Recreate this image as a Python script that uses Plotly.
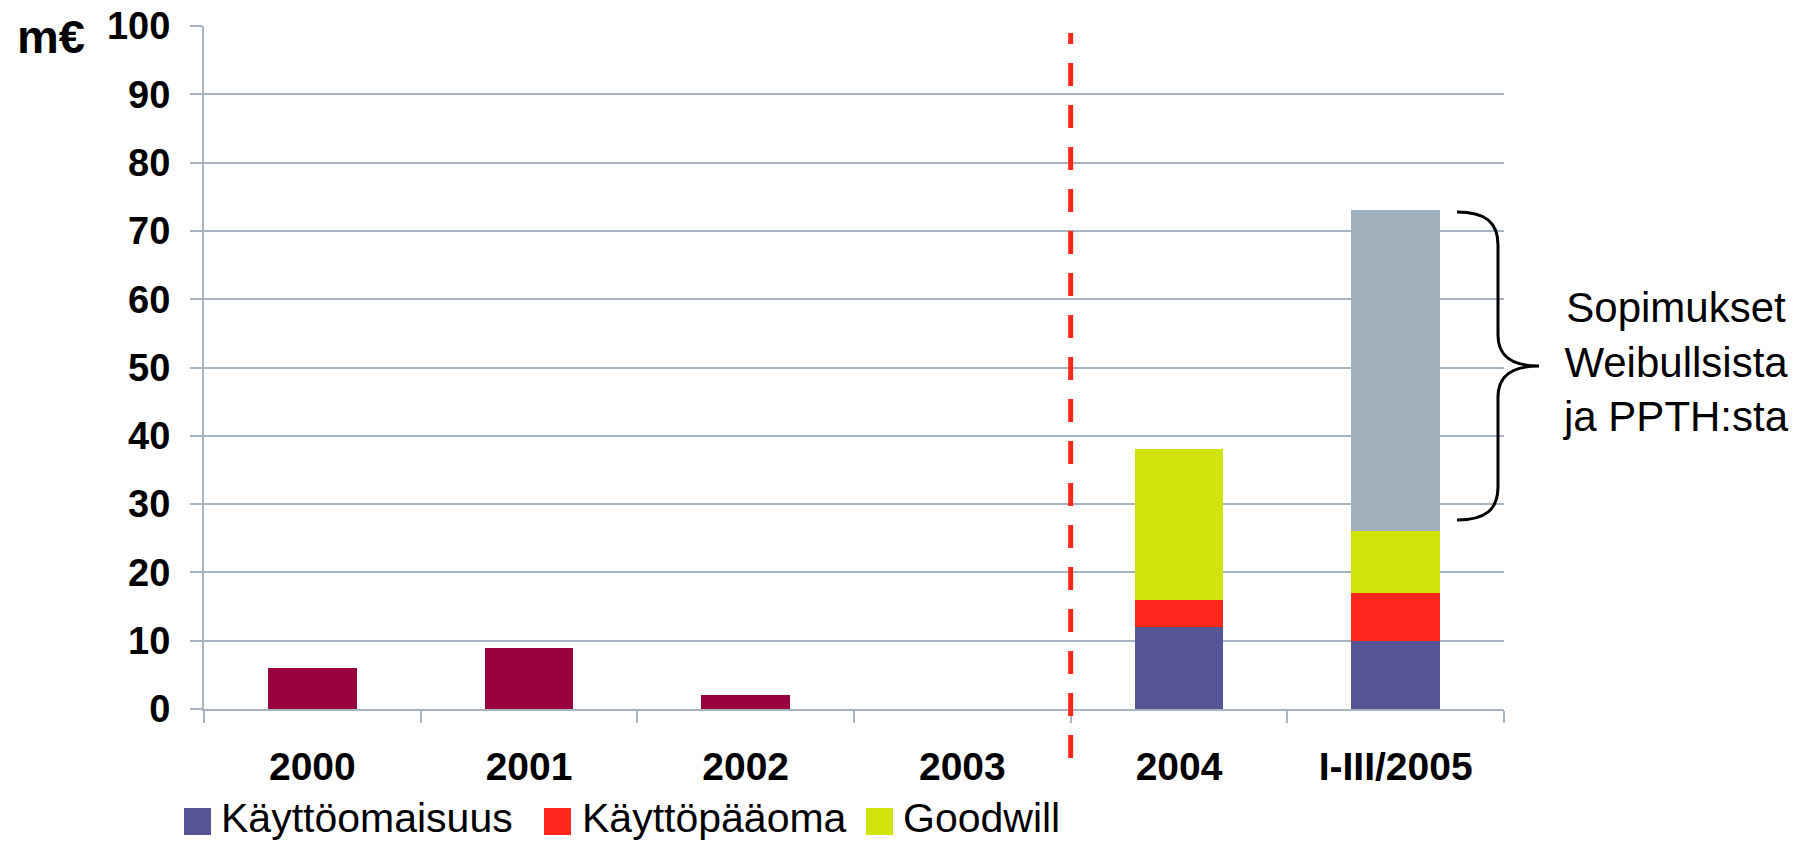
import plotly.graph_objects as go

# ---------------- data ----------------
categories = ["2000", "2001", "2002", "2003", "2004", "I-III/2005"]
acquisitions = [6, 9, 2, None, None, None]          # maroon bars (no legend entry)
kayttoomaisuus = [None, None, None, None, 12, 10]
kayttopaaoma = [None, None, None, None, 4, 7]
goodwill = [None, None, None, None, 22, 9]
sopimukset = [None, None, None, None, None, 47]     # grey, annotated with brace

y_ticks = [0, 10, 20, 30, 40, 50, 60, 70, 80, 90, 100]
legend_names = ["Käyttöomaisuus", "Käyttöpääoma", "Goodwill"]

# ---------------- style ----------------
FONT = "Liberation Sans, Arial, sans-serif"
C_MAROON = "#990040"
C_BLUE = "#565596"
C_RED = "#FF2719"
C_GREEN = "#D0E40A"
C_GREY = "#A2B1BE"
C_GRID = "#A6B4C2"
legend_colors = [C_BLUE, C_RED, C_GREEN]

W, H = 1802, 842
ML, MT = 204, 26
PW, PH = 1300, 683
MR, MB = W - ML - PW, H - MT - PH
x_range = [-0.5, len(categories) - 0.5]
y_range = [0, 100]


def px_x(px):
    """screen px -> paper x"""
    return (px - ML) / PW


def px_y(py):
    """screen px -> paper y"""
    return (MT + PH - py) / PH


fig = go.Figure()
fig.add_trace(go.Bar(x=categories, y=acquisitions, marker_color=C_MAROON,
                     marker_line_width=0, name="Hankinnat", showlegend=False))
for vals, name, col in [(kayttoomaisuus, legend_names[0], C_BLUE),
                        (kayttopaaoma, legend_names[1], C_RED),
                        (goodwill, legend_names[2], C_GREEN)]:
    fig.add_trace(go.Bar(x=categories, y=vals, marker_color=col,
                         marker_line_width=0, name=name, showlegend=False))
fig.add_trace(go.Bar(x=categories, y=sopimukset, marker_color=C_GREY,
                     marker_line_width=0, name="Sopimukset", showlegend=False))

shapes = []
# dashed divider between 2003 and 2004
div_idx = categories.index("2004") - 0.5
div_x = (div_idx - x_range[0]) / (x_range[1] - x_range[0])
shapes.append(dict(type="line", xref="paper", yref="paper",
                   x0=div_x, x1=div_x, y0=px_y(758), y1=px_y(33),
                   line=dict(color=C_RED, width=5, dash="23px,19px")))

# curly brace next to the grey segment
pts = [(1457, 212), (1485, 212), (1498, 222), (1498, 245), (1498, 335),
       (1498, 355), (1510, 366), (1539, 366), (1510, 366), (1498, 377),
       (1498, 397), (1498, 487), (1498, 510), (1485, 520), (1457, 520)]
P = [f"{px_x(a):.5f},{px_y(b):.5f}" for a, b in pts]
path = (f"M {P[0]} C {P[1]} {P[2]} {P[3]} L {P[4]} C {P[5]} {P[6]} {P[7]} "
        f"C {P[8]} {P[9]} {P[10]} L {P[11]} C {P[12]} {P[13]} {P[14]}")
shapes.append(dict(type="path", xref="paper", yref="paper", path=path,
                   line=dict(color="black", width=3)))

# custom legend squares + labels
sq_left = [184, 544, 866]
txt_left = [219, 580, 901]
annotations = []
for i, (nm, col) in enumerate(zip(legend_names, legend_colors)):
    shapes.append(dict(type="rect", xref="paper", yref="paper",
                       x0=px_x(sq_left[i]), x1=px_x(sq_left[i] + 27),
                       y0=px_y(835), y1=px_y(808), fillcolor=col,
                       line=dict(width=0)))
    annotations.append(dict(xref="paper", yref="paper", x=px_x(txt_left[i]),
                            y=px_y(818), xanchor="left", yanchor="middle",
                            text=nm, showarrow=False,
                            font=dict(family=FONT, size=41, color="black")))

annotations.append(dict(xref="paper", yref="paper", x=px_x(1675), y=px_y(362),
                        xanchor="center", yanchor="middle", align="center",
                        text="Sopimukset<br>Weibullsista<br>ja PPTH:sta",
                        showarrow=False,
                        font=dict(family=FONT, size=42, color="black")))
annotations.append(dict(xref="paper", yref="paper", x=px_x(15), y=px_y(37),
                        xanchor="left", yanchor="middle", text="<b>m€</b>",
                        showarrow=False,
                        font=dict(family=FONT, size=47, color="black")))

fig.update_layout(
    width=W, height=H,
    margin=dict(l=ML, r=MR, t=MT, b=MB, pad=0, autoexpand=False),
    paper_bgcolor="white", plot_bgcolor="white",
    barmode="stack", bargap=0.59,
    showlegend=False,
    shapes=shapes, annotations=annotations,
    font=dict(family=FONT, color="black"),
)
fig.update_xaxes(type="category", categoryorder="array", categoryarray=categories,
                 range=x_range, automargin=False, showgrid=False, showline=True,
                 linecolor=C_GRID, linewidth=2, ticks="outside",
                 tickson="boundaries", ticklen=12, tickwidth=2, tickcolor=C_GRID,
                 ticklabelstandoff=22,
                 tickfont=dict(family=FONT, size=39, color="black", weight="bold"))
fig.update_yaxes(range=y_range, tickvals=y_ticks, automargin=False, showgrid=True,
                 gridcolor=C_GRID, gridwidth=2, showline=True, linecolor=C_GRID,
                 linewidth=2, zeroline=False, ticks="outside", ticklen=12,
                 tickwidth=2, tickcolor=C_GRID, ticklabelstandoff=12,
                 ticklabeloverflow="allow",
                 tickfont=dict(family=FONT, size=38, color="black", weight="bold"))

fig.write_html("out.html",
               config={"displayModeBar": False},
               post_script="document.body.style.margin='0';"
                           "document.body.style.overflow='hidden';")
